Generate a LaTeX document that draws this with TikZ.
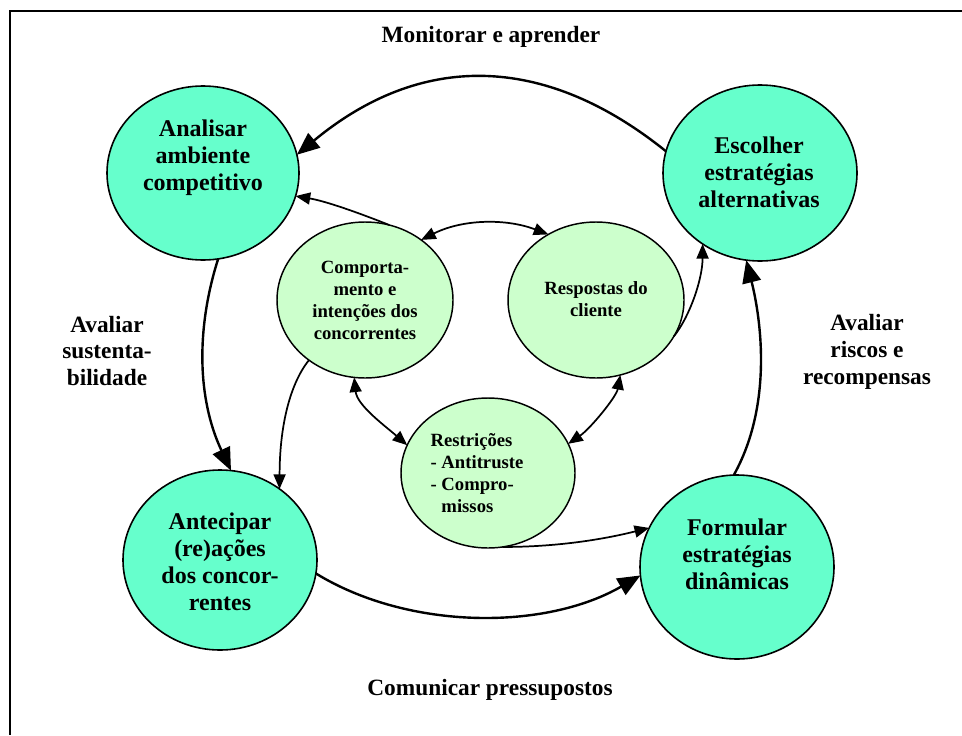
\documentclass[tikz,border=0pt]{standalone}
\usepackage{fontspec}
\setmainfont{Liberation Serif}
\usetikzlibrary{shapes.geometric,arrows.meta}
\definecolor{aqua}{RGB}{102,255,204}
\definecolor{mint}{RGB}{204,255,204}
\begin{document}
\begin{tikzpicture}[x=0.75pt,y=-0.75pt,
  outerc/.style={ellipse,draw=black,line width=1.2pt,fill=aqua,inner sep=0pt,outer sep=0pt},
  innerc/.style={ellipse,draw=black,line width=1.1pt,fill=mint,inner sep=0pt,outer sep=0pt},
  bigtxt/.style={align=center,font=\fontsize{18}{20.25}\selectfont\bfseries,inner sep=0pt},
  smtxt/.style={align=center,font=\fontsize{14}{16.5}\selectfont\bfseries,inner sep=0pt},
  lbl/.style={align=center,font=\fontsize{17.5}{20}\selectfont\bfseries,inner sep=0pt},
  bigarrow/.style={line width=1.8pt,-{Triangle[length=17pt,width=14pt]}},
  smallarrow/.style={line width=1.3pt,-{Triangle[length=11pt,width=9pt]}},
  dblarrow/.style={line width=1.3pt,{Triangle[length=11pt,width=9pt]}-{Triangle[length=11pt,width=9pt]}},
]
\fill[white] (0,0) rectangle (962,735);
\useasboundingbox (0,0) rectangle (962,735);
% frame
\coordinate (fTR) at (962,11);
\coordinate (fTL) at (10,11);
\coordinate (fBL) at (10,735);
\draw[line width=1.5pt] (fTR) -- (fTL) -- (fBL);

% ellipses
\node[outerc,minimum width=144pt,minimum height=130.5pt] (ana) at (203,173) {};
\node[outerc,minimum width=145.5pt,minimum height=132pt] (esc) at (760,173) {};
\node[outerc,minimum width=145.5pt,minimum height=135pt] (ant) at (220,560) {};
\node[outerc,minimum width=145.5pt,minimum height=138pt] (form) at (737,567) {};
\node[innerc,minimum width=132pt,minimum height=117pt] (comp) at (365,300) {};
\node[innerc,minimum width=132pt,minimum height=117pt] (resp) at (596,300) {};
\node[innerc,minimum width=130.5pt,minimum height=112.5pt] (restr) at (488,473) {};

% texts
\node[bigtxt] (anaT) at (203,158) {Analisar\\ambiente\\competitivo};
\node[bigtxt] (escT) at (759,172) {Escolher\\estratégias\\alternativas};
\node[bigtxt] (antT) at (220,562) {Antecipar\\(re)ações\\dos concor-\\rentes};
\node[bigtxt] (formT) at (737,554) {Formular\\estratégias\\dinâmicas};
\node[smtxt] (compT) at (365,300) {Comporta-\\mento e\\intenções dos\\concorrentes};
\node[smtxt] (respT) at (596,299) {Respostas do\\cliente};
\node[smtxt,align=left] (restrT) at (477,473) {Restrições\\- Antitruste\\- Compro-\\\phantom{- }missos};

\node[lbl] (mon) at (491,37) {Monitorar e aprender};
\node[lbl] (avs) at (107,351) {Avaliar\\sustenta-\\bilidade};
\node[lbl] (avr) at (867,352) {Avaliar\\riscos e\\recompensas};
\node[lbl] (com) at (490,690) {Comunicar pressupostos};

% connectors
\draw[bigarrow] (esc.167) .. controls +(-123,-99) and +(123,-102) .. (ana.11);
\draw[smallarrow] (comp.72) .. controls +(-30,-12) and +(30,5) .. (ana.-14);
\draw[dblarrow] (comp.47) .. controls +(42,-21) and +(-42,-16) .. (resp.126);
\draw[bigarrow] (ana.-80) .. controls +(-22,69) and +(-34,-72) .. (ant.83);
\draw[smallarrow] (comp.227) .. controls +(-20,25) and +(0,-60) .. (ant.50);
\draw[dblarrow] (comp.262) .. controls +(3,28) and +(-23,-20) .. (restr.161);
\draw[dblarrow] (resp.288) .. controls +(-4,22) and +(22,-15) .. (restr.20);
\draw[smallarrow] (restr.281) .. controls +(60,0) and +(-40,10) .. (form.156);
\draw[bigarrow] (ant.-8) .. controls +(93,57) and +(-95,55) .. (form.185);
\draw[bigarrow] (form.92) .. controls +(39,-70) and +(15,60) .. (esc.261);
\draw[smallarrow] (resp.-25) .. controls +(16,-20) and +(0,35) .. (esc.231);
\end{tikzpicture}
\end{document}
